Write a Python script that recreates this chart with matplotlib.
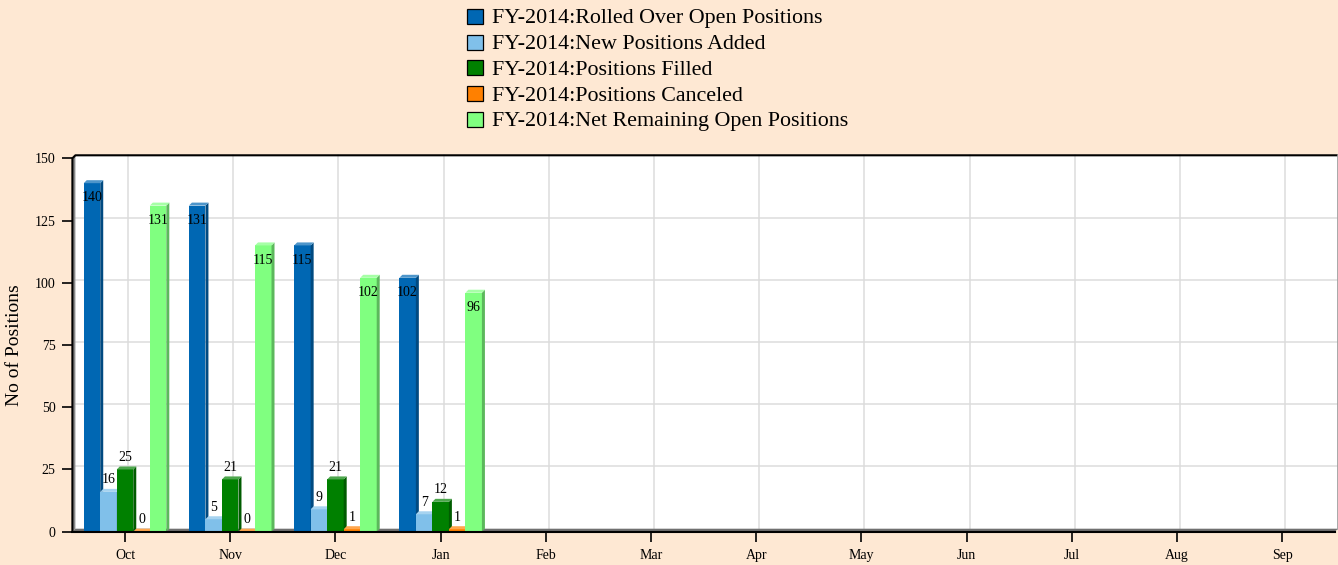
import numpy as np
import matplotlib.pyplot as plt
from matplotlib.patches import Polygon, Rectangle
from matplotlib.colors import to_rgb

plt.rcParams['font.family'] = ['Liberation Serif', 'DejaVu Serif']

months = ['Oct', 'Nov', 'Dec', 'Jan', 'Feb', 'Mar', 'Apr', 'May', 'Jun', 'Jul', 'Aug', 'Sep']
series_names = ['FY-2014:Rolled Over Open Positions',
                'FY-2014:New Positions Added',
                'FY-2014:Positions Filled',
                'FY-2014:Positions Canceled',
                'FY-2014:Net Remaining Open Positions']
rolled_over = [140, 131, 115, 102]
new_added = [16, 5, 9, 7]
filled = [25, 21, 21, 12]
canceled = [0, 0, 1, 1]
net_remaining = [131, 115, 102, 96]
series = [rolled_over, new_added, filled, canceled, net_remaining]
colors = ['#0067b3', '#80c0ea', '#008000', '#ff8000', '#80ff80']
bg = '#fee8d3'

W, H, dpi = 1338, 565, 100
fig = plt.figure(figsize=(W / dpi, H / dpi), dpi=dpi, facecolor=bg)

# plot area in pixels (front plane)
left, right, top, bottom = 72.4, 1334.9, 158.3, 531.7
ax = fig.add_axes([left / W, 1 - bottom / H, (right - left) / W, (bottom - top) / H])
ax.patch.set_visible(False)
for s in ax.spines.values():
    s.set_visible(False)
x0, x1, ymax = -0.5, 11.5, 150
ax.set_xlim(x0, x1)
ax.set_ylim(0, ymax)

# 3d depth in data units
depth = 3.0
dx = depth * (x1 - x0) / (right - left)
dy = depth * ymax / (bottom - top)


def lighten(c, f):
    r = np.array(to_rgb(c))
    return tuple(r + (1 - r) * f)


def darken(c, f):
    return tuple(np.array(to_rgb(c)) * (1 - f))


# back wall, left wall and floor
ax.add_patch(Rectangle((x0 + dx, dy), x1 - x0, ymax, facecolor='white', edgecolor='none',
                       zorder=0, clip_on=False))
for yv in range(25, ymax, 25):
    ax.plot([x0 + dx, x1 + dx], [yv + dy, yv + dy], color='#dcdcdc', lw=1.1, zorder=1, clip_on=False)
for i in range(len(months)):
    ax.plot([i + dx, i + dx], [dy, ymax + dy], color='#dcdcdc', lw=1.1, zorder=1, clip_on=False)
ax.add_patch(Polygon([(x0, 0), (x0, ymax), (x0 + dx, ymax + dy), (x0 + dx, dy)],
                     facecolor='#8a8a8a', edgecolor='none', zorder=2, clip_on=False))
ax.add_patch(Polygon([(x0, 0), (x1, 0), (x1 + dx, dy), (x0 + dx, dy)],
                     facecolor='#707070', edgecolor='none', zorder=2, clip_on=False))
ax.plot([x0, x0, x0 + dx, x1 + dx], [0, ymax, ymax + dy, ymax + dy], color='black', lw=1.5,
        zorder=6, clip_on=False)
ax.plot([x1 + dx, x1 + dx], [dy, ymax + dy], color='#9a9a9a', lw=1.2, zorder=6, clip_on=False)
ax.plot([x0, x1], [0, 0], color='black', lw=1.5, zorder=6, clip_on=False)

# bars with top and side faces
bw = 0.157
for k, (vals, c) in enumerate(zip(series, colors)):
    z = 3 + k * 0.1
    xs = np.arange(len(vals)) + (k - 2) * bw
    ax.bar(xs, vals, width=bw, color=c, zorder=z, linewidth=0)
    for x, v in zip(xs, vals):
        xl, xr = x - bw / 2, x + bw / 2
        ax.add_patch(Polygon([(xr, 0), (xr + dx, dy), (xr + dx, v + dy), (xr, v)],
                             facecolor=darken(c, 0.28), edgecolor='none', zorder=z))
        ax.add_patch(Polygon([(xl, v), (xr, v), (xr + dx, v + dy), (xl + dx, v + dy)],
                             facecolor=lighten(c, 0.3), edgecolor='none', zorder=z))
        # value labels: inside tall bars, above short ones
        off = -18.2 if v > 50 else 8.4
        ax.annotate(str(v), (x, v), xytext=(0, off * 72 / dpi), textcoords='offset points',
                    ha='center', va='baseline', fontsize=10, color='black', zorder=7)

ax.set_xticks(range(len(months)), months)
ax.set_yticks(range(0, ymax + 1, 25))
ax.tick_params(axis='x', length=7.2, width=1.2, pad=5.2, labelsize=10, color='black')
ax.tick_params(axis='y', length=7.2, width=1.2, pad=5, labelsize=10, color='black')

fig.text(15 / W, 1 - 345 / H, 'No of Positions', rotation=90, ha='center', va='center', fontsize=14)

# legend
for k, (name, c) in enumerate(zip(series_names, colors)):
    yc = 16.5 + k * 25.7
    fig.patches.append(Rectangle((467 / W, 1 - (yc + 7.5) / H), 16 / W, 15 / H, facecolor=c,
                                 edgecolor='black', lw=0.9, transform=fig.transFigure, figure=fig))
    fig.text(492 / W, 1 - yc / H, name, ha='left', va='center_baseline', fontsize=15.8)

fig.savefig('out.png', dpi=dpi, facecolor=bg)
